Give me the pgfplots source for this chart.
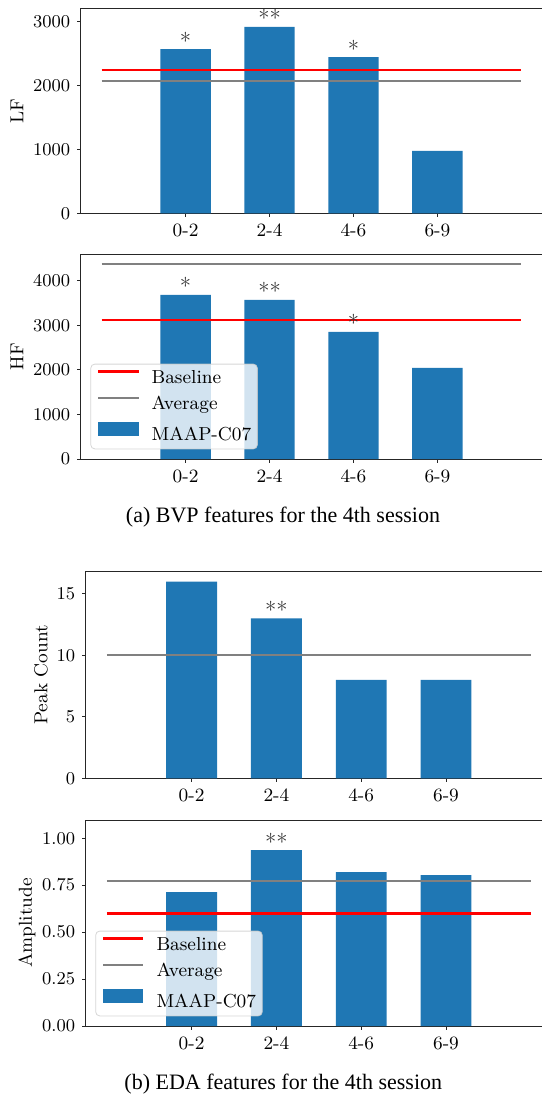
\documentclass[border=0pt]{standalone}
\usepackage{fontspec}
\usepackage{pgfplots}
\pgfplotsset{compat=1.18}
\newfontfamily\capfont{Liberation Serif}
\definecolor{c0}{HTML}{1F77B4}
\definecolor{spine}{HTML}{262626}

\pgfplotsset{
  myaxis/.style={
    scale only axis,
    anchor=north west,
    font=\fontsize{9.4}{11.3}\selectfont,
    xmin=-1.25, xmax=4.25, ymin=0,
    xtick={0,1,2,3}, xticklabels={0-2,2-4,4-6,6-9},
    tick align=outside, xtick pos=lower, ytick pos=left,
    major tick length=1.75pt,
    tick style={spine, line width=0.5pt},
    axis line style={spine, line width=0.5pt},
    scaled y ticks=false,
    /pgf/number format/1000 sep={},
    every axis y label/.style={rotate=90, anchor=center},
    legend cell align=left,
    legend style={at={(axis description cs:0,0)}, anchor=south west,
      xshift=4.85pt, yshift=4.85pt,
      fill=white, fill opacity=0.8, draw=black!20, draw opacity=0.8, text opacity=1,
      rounded corners=2pt, inner xsep=3.1pt, inner ysep=2.6pt,
      row sep=4.5pt,
      nodes={inner sep=0pt, text height=7pt, text depth=1.6pt},
      /tikz/every odd column/.append style={column sep=6pt}},
  },
  bars/.style={ybar, bar width=0.6, bar shift=0pt, fill=c0, draw=none,
    nodes near coords, point meta=explicit symbolic,
    every node near coord/.append style={anchor=base, inner sep=0pt, yshift=0pt,
      font=\fontsize{11.5}{12}\selectfont, text=black!80},
    legend image code/.code={\fill[c0, fill opacity=1, sharp corners] (0pt,-0.3pt) rectangle (20.2pt,6.7pt);}},
  hline/.style={line width=1.1pt, color=#1,
    legend image code/.code={\draw[#1, line width=1.1pt, draw opacity=1, sharp corners] (0pt,3.2pt) -- (20.2pt,3.2pt);}},
}

\begin{document}
\begin{tikzpicture}
% Panel 1: LF
\begin{axis}[myaxis, at={(40.35pt,-4.15pt)}, width=230.8pt, height=102.6pt,
  ymax=3206, ytick={0,1000,2000,3000}, ylabel={LF},
  ylabel style={at={(axis description cs:-0.138,0.5)}}]
  \addplot[bars] coordinates {(0,2570) [*] (1,2914) [**] (2,2445) [*] (3,977) [{}]};
  \addplot[hline=gray] coordinates {(-1,2070) (4,2070)};
  \addplot[hline=red] coordinates {(-1,2242) (4,2242)};
\end{axis}
% Panel 2: HF
\begin{axis}[myaxis, at={(40.35pt,-127.15pt)}, width=230.8pt, height=102.35pt,
  ymax=4595, ytick={0,1000,2000,3000,4000}, ylabel={HF},
  ylabel style={at={(axis description cs:-0.138,0.5)}}, reverse legend]
  \addplot[bars] coordinates {(0,3685) [*] (1,3573) [**] (2,2854) [*] (3,2045) [{}]};
  \addlegendentry{MAAP-C07}
  \addplot[hline=gray] coordinates {(-1,4382) (4,4382)};
  \addlegendentry{Average}
  \addplot[hline=red] coordinates {(-1,3124) (4,3124)};
  \addlegendentry{Baseline}
\end{axis}
\node[font=\capfont\fontsize{11}{13}\selectfont, anchor=center] at (141.5pt,-258.35pt) {(a) BVP features for the 4th session};
% Panel 3: Peak Count
\begin{axis}[myaxis, at={(42.8pt,-285.85pt)}, width=233.2pt, height=103.3pt,
  ymax=16.8, ytick={0,5,10,15}, ylabel={Peak Count},
  ylabel style={at={(axis description cs:-0.0956,0.5)}}]
  \addplot[bars] coordinates {(0,16) [{}] (1,13) [**] (2,8) [{}] (3,8) [{}]};
  \addplot[hline=gray] coordinates {(-1,10) (4,10)};
\end{axis}
% Panel 4: Amplitude
\begin{axis}[myaxis, at={(42.8pt,-410pt)}, width=233.2pt, height=103pt,
  ymax=1.097, ytick={0,0.25,0.5,0.75,1}, ylabel={Amplitude},
  yticklabel style={/pgf/number format/.cd, fixed, fixed zerofill, precision=2},
  ylabel style={at={(axis description cs:-0.1256,0.5)}}, reverse legend]
  \addplot[bars] coordinates {(0,0.713) [{}] (1,0.936) [**] (2,0.819) [{}] (3,0.803) [{}]};
  \addlegendentry{MAAP-C07}
  \addplot[hline=gray] coordinates {(-1,0.771) (4,0.771)};
  \addlegendentry{Average}
  \addplot[hline=red] coordinates {(-1,0.599) (4,0.599)};
  \addlegendentry{Baseline}
\end{axis}
\node[font=\capfont\fontsize{11}{13}\selectfont, anchor=center] at (141.65pt,-542pt) {(b) EDA features for the 4th session};
\pgfresetboundingbox
\path (0pt,0pt) rectangle (270.5pt,-548.5pt);
\end{tikzpicture}
\end{document}
